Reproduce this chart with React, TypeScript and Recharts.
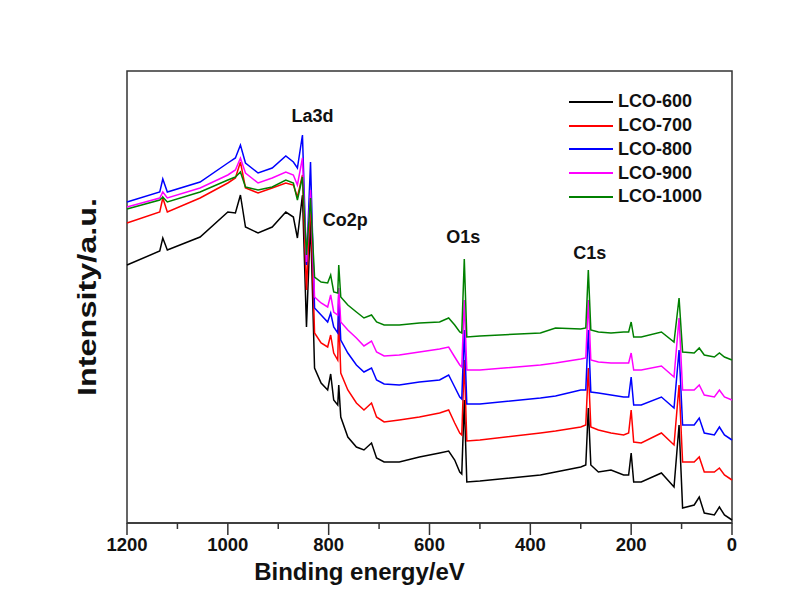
import { LineChart, Line, XAxis, YAxis, ReferenceArea, ReferenceDot } from 'recharts';

// binding energy grid (eV), shared by all five spectra
const energy = [
  1200, 1135, 1129, 1120, 1055, 1000, 985, 975, 965, 940,
  912, 885, 870, 862, 852, 844, 836, 828, 815, 802,
  796, 790, 782, 780, 776, 762, 745, 730, 715, 705,
  690, 660, 620, 580, 562, 550, 540, 536, 531, 526,
  500, 380, 350, 300, 290, 285, 280, 265, 240, 215,
  205, 200, 195, 180, 140, 115, 105, 98, 75, 65,
  55, 35, 25, 15, 0,
];

// intensities (a.u.)
const lco600 = [
  258, 272, 285, 273, 286, 311, 310, 328, 296, 290,
  296, 311, 306, 285, 328, 196, 303, 155, 140, 133,
  149, 123, 118, 138, 106, 86, 76, 73, 80, 65,
  61, 61, 66, 70, 72, 63, 51, 49, 123, 41,
  42, 48, 51, 56, 58, 115, 58, 51, 53, 48,
  48, 70, 41, 41, 50, 36, 98, 15, 18, 26,
  10, 8, 16, 8, 3,
];
const lco700 = [
  300, 311, 325, 311, 325, 340, 345, 361, 335, 330,
  335, 340, 338, 326, 348, 233, 323, 190, 180, 176,
  188, 170, 163, 208, 150, 133, 120, 113, 120, 106,
  101, 103, 106, 110, 113, 100, 90, 88, 163, 82,
  83, 90, 92, 96, 98, 155, 96, 93, 90, 88,
  90, 113, 81, 80, 90, 78, 138, 61, 61, 66,
  51, 51, 55, 48, 43,
];
const lco800 = [
  321, 331, 344, 331, 341, 360, 365, 378, 360, 350,
  355, 367, 361, 355, 388, 258, 361, 215, 208, 201,
  210, 196, 190, 228, 183, 170, 158, 151, 155, 143,
  139, 138, 141, 143, 148, 136, 126, 124, 193, 119,
  119, 125, 127, 133, 133, 193, 131, 130, 128, 126,
  126, 146, 118, 118, 126, 115, 173, 98, 98, 105,
  90, 88, 96, 88, 83,
];
const lco900 = [
  316, 325, 331, 325, 335, 348, 353, 365, 350, 340,
  345, 351, 348, 338, 365, 261, 333, 226, 220, 216,
  228, 211, 208, 235, 201, 193, 185, 177, 182, 171,
  167, 168, 171, 174, 176, 166, 158, 156, 223, 153,
  153, 158, 160, 164, 165, 223, 163, 161, 160, 160,
  160, 170, 153, 153, 157, 146, 205, 133, 133, 138,
  128, 126, 133, 126, 123,
];
const lco1000 = [
  314, 323, 326, 321, 331, 343, 346, 351, 336, 333,
  336, 343, 340, 323, 346, 268, 325, 246, 241, 240,
  248, 231, 230, 258, 226, 218, 211, 205, 208, 201,
  198, 198, 200, 201, 205, 198, 191, 190, 264, 186,
  187, 190, 195, 194, 195, 253, 193, 191, 190, 191,
  191, 201, 186, 186, 191, 181, 225, 171, 170, 175,
  168, 166, 170, 166, 163,
];

const seriesNames = ['LCO-600', 'LCO-700', 'LCO-800', 'LCO-900', 'LCO-1000'];
const seriesKeys = ['s600', 's700', 's800', 's900', 's1000'];
const seriesColors = ['#000000', '#ff0000', '#0000ff', '#ff00ff', '#008000'];
const seriesValues = [lco600, lco700, lco800, lco900, lco1000];

const xTicks = [0, 100, 200, 300, 400, 500, 600, 700, 800, 900, 1000, 1100, 1200];

const peakLabels = [
  { name: 'La3d', e: 832, v: 407 },
  { name: 'Co2p', e: 767, v: 303 },
  { name: 'O1s', e: 533, v: 286 },
  { name: 'C1s', e: 282, v: 270 },
];

const rows = energy.map((e, i) => {
  const row: Record<string, number> = { e };
  seriesKeys.forEach((k, j) => {
    row[k] = seriesValues[j][i];
  });
  return row;
});

const FONT = 'Arial, "Liberation Sans", sans-serif';

const XTick = (props: any) => {
  const { x, y, payload } = props;
  const major = payload.value % 200 === 0;
  return (
    <g>
      <line x1={x} x2={x} y1={y} y2={y + (major ? 12 : 6)} stroke="#333" strokeWidth={1.5} />
      {major && (
        <text x={x} y={y + 28} textAnchor="middle" fontFamily={FONT} fontWeight="bold" fontSize={18.5} fill="#111">
          {payload.value}
        </text>
      )}
    </g>
  );
};

const YTitle = (props: any) => {
  const vb = props.viewBox || { y: 63, height: 452 };
  const cx = 79;
  const cy = vb.y + vb.height / 2;
  return (
    <text
      x={cx}
      y={cy}
      transform={`rotate(-90 ${cx} ${cy})`}
      textAnchor="middle"
      dominantBaseline="central"
      fontFamily={FONT}
      fontWeight="bold"
      fontSize={25}
      textLength={198}
      lengthAdjust="spacingAndGlyphs"
      fill="#111"
    >
      Intensity/a.u.
    </text>
  );
};

export default function App() {
  return (
    <div style={{ position: 'relative', width: 786, height: 598 }}>
      <LineChart width={786} height={598} data={rows} margin={{ top: 63, right: 62, left: 0, bottom: 8 }}>
        <XAxis
          dataKey="e"
          type="number"
          domain={[0, 1200]}
          reversed
          ticks={xTicks}
          interval={0}
          tickSize={0}
          tickMargin={0}
          tickLine={false}
          tick={<XTick />}
          height={75}
          axisLine={{ stroke: '#333', strokeWidth: 1.5 }}
          label={{
            value: 'Binding energy/eV',
            position: 'insideBottom',
            offset: 18,
            dx: -70,
            fontFamily: FONT,
            fontWeight: 'bold',
            fontSize: 24,
            fill: '#111',
          }}
        />
        <YAxis
          type="number"
          domain={[0, 452]}
          width={119}
          tick={false}
          tickLine={false}
          axisLine={false}
          allowDataOverflow
          label={<YTitle />}
        />
        <ReferenceArea x1={0} x2={1200} y1={0} y2={452} fill="none" stroke="#333" strokeWidth={1.5} />
        {seriesKeys.map((k, i) => (
          <Line
            key={k}
            dataKey={k}
            name={seriesNames[i]}
            stroke={seriesColors[i]}
            strokeWidth={1.5}
            dot={false}
            type="linear"
            isAnimationActive={false}
          />
        ))}
        {peakLabels.map((p) => (
          <ReferenceDot
            key={p.name}
            x={p.e}
            y={p.v}
            r={0}
            fill="none"
            stroke="none"
            label={{ value: p.name, position: 'center', fontFamily: FONT, fontWeight: 'bold', fontSize: 18, fill: '#111' }}
          />
        ))}
      </LineChart>
      <div style={{ position: 'absolute', left: 561, top: 82, fontFamily: FONT, fontWeight: 'bold', fontSize: 18, color: '#111' }}>
        {seriesNames.map((n, i) => (
          <div key={n} style={{ display: 'flex', alignItems: 'center', height: 23.75 }}>
            <span style={{ display: 'inline-block', width: 44, height: 2, background: seriesColors[i], marginRight: 5 }} />
            <span>{n}</span>
          </div>
        ))}
      </div>
    </div>
  );
}
